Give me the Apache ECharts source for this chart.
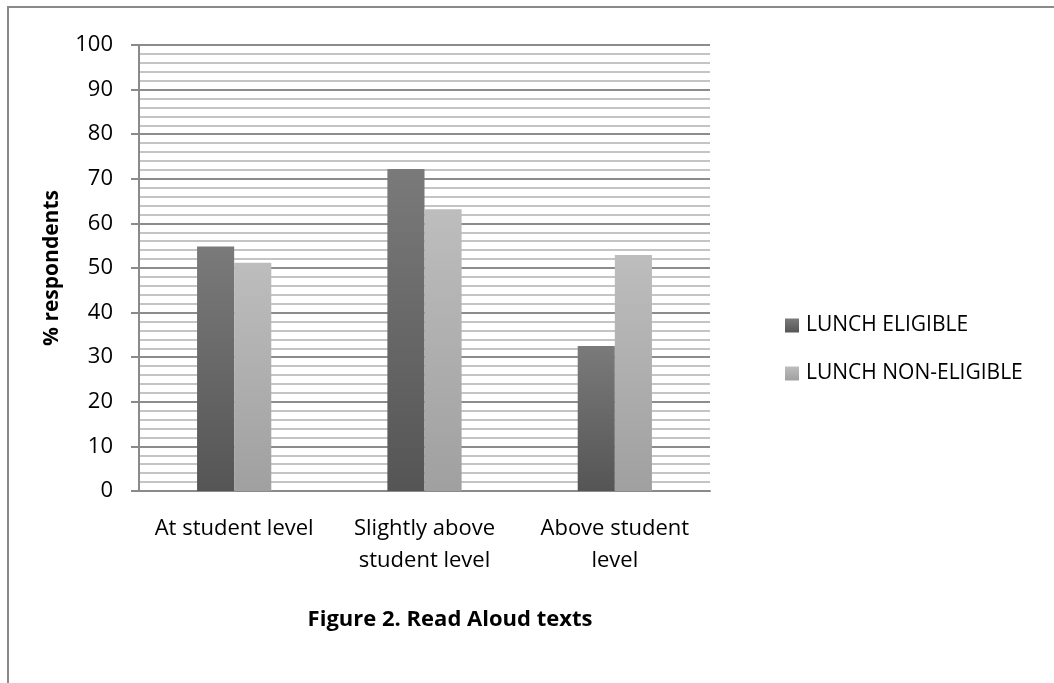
<!DOCTYPE html>
<html>
<head>
<meta charset="utf-8">
<script src="https://cdn.jsdelivr.net/npm/echarts@6/dist/echarts.min.js"></script>
<style>
html,body{margin:0;padding:0;background:#fff;}
#chart{width:1054px;height:683px;}
</style>
</head>
<body>
<div id="chart"></div>
<script>
const categories = ["At student level", "Slightly above\nstudent level", "Above student\nlevel"];
const eligible = [54.8, 72.2, 32.5];
const nonEligible = [51.2, 63.2, 52.9];
const seriesNames = ["LUNCH ELIGIBLE", "LUNCH NON-ELIGIBLE"];
const yTicks = {min: 0, max: 100, interval: 10};

const FONT = "Open Sans";
const chart = echarts.init(document.getElementById('chart'));

function grad(top, bottom) {
  return new echarts.graphic.LinearGradient(0, 0, 0, 1, [
    {offset: 0, color: top}, {offset: 1, color: bottom}
  ]);
}

chart.setOption({
  animation: false,
  backgroundColor: '#fff',
  textStyle: {fontFamily: FONT},
  graphic: [
    {type: 'rect', shape: {x: 8, y: 7, width: 1300, height: 900},
     style: {fill: 'none', stroke: '#8a8a8a', lineWidth: 2}, silent: true},
    {type: 'text', x: 450, y: 620,
     style: {text: 'Figure 2. Read Aloud texts', fontFamily: FONT, fontWeight: 'bold',
       fontSize: 22, fill: '#000', textAlign: 'center', textVerticalAlign: 'middle'}}
  ],
  grid: {left: 139, right: 344, top: 45, bottom: 192},
  legend: {
    orient: 'vertical', left: 780, top: 310, itemGap: 27,
    itemWidth: 14, itemHeight: 14, icon: 'rect',
    textStyle: {fontFamily: FONT, fontSize: 21, color: '#000', padding: [0, 0, 0, 2]},
    data: seriesNames
  },
  xAxis: {
    type: 'category', data: categories,
    axisLine: {lineStyle: {color: '#8a8a8a', width: 2}},
    axisTick: {show: false},
    axisLabel: {fontFamily: FONT, fontSize: 22, color: '#000', margin: 22, lineHeight: 32, interval: 0}
  },
  yAxis: {
    type: 'value', min: yTicks.min, max: yTicks.max, interval: yTicks.interval,
    name: '% respondents', nameLocation: 'middle', nameGap: 76, nameRotate: 90,
    nameTextStyle: {fontFamily: FONT, fontWeight: 'bold', fontSize: 21, color: '#000'},
    axisLine: {show: true, lineStyle: {color: '#8a8a8a', width: 2}},
    axisTick: {show: true, inside: false, length: 8, lineStyle: {color: '#8a8a8a', width: 2}},
    axisLabel: {fontFamily: FONT, fontSize: 22, color: '#000', margin: 26},
    splitLine: {show: true, lineStyle: {color: '#8c8c8c', width: 2}},
    minorTick: {show: false, splitNumber: 5},
    minorSplitLine: {show: true, lineStyle: {color: '#c4c4c4', width: 2}}
  },
  series: [
    {name: seriesNames[0], type: 'bar', data: eligible, barGap: '0%', barCategoryGap: '61%',
     itemStyle: {color: grad('#7a7a7a', '#555555')}},
    {name: seriesNames[1], type: 'bar', data: nonEligible,
     itemStyle: {color: grad('#bdbdbd', '#a0a0a0')}}
  ]
});
</script>
</body>
</html>
